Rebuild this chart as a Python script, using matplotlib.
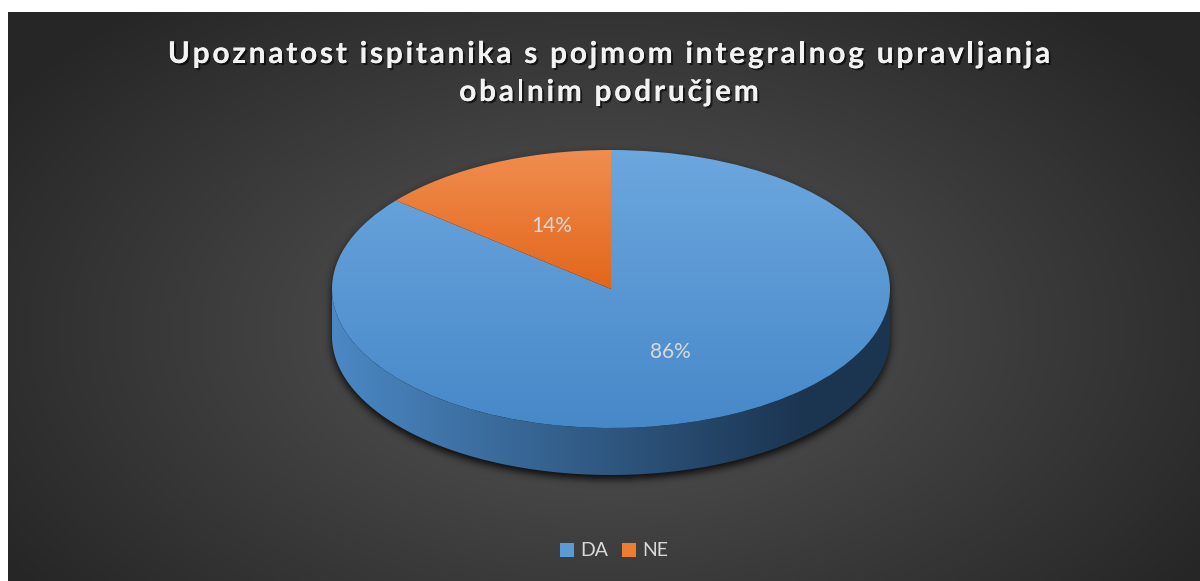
import numpy as np
import matplotlib.pyplot as plt
from matplotlib.patches import Wedge, Polygon, Rectangle
from matplotlib.transforms import Affine2D
from matplotlib import patheffects
from matplotlib.colors import to_rgb

plt.rcParams['font.family'] = ['Lato', 'DejaVu Sans']

title_lines = ["Upoznatost ispitanika s pojmom integralnog upravljanja",
               "obalnim područjem"]
categories = ["DA", "NE"]
shares = [86, 14]
top_colors = [("#6ca7de", "#4788c9"), ("#f08d50", "#e3661a")]
side_colors = [("#4b88c4", "#1b3450"), ("#c0581a", "#6a300c")]
legend_colors = ["#5b9bd5", "#ed7d31"]

W, H = 1200, 581
fig = plt.figure(figsize=(12, 5.81), dpi=100, facecolor="white")
ax = fig.add_axes([0, 0, 1, 1])
ax.set_xlim(0, W)
ax.set_ylim(H, 0)
ax.axis("off")

# radial grey background
bx0, by0 = 8, 12
yy, xx = np.mgrid[by0:H, bx0:W] + 0.5
r = np.sqrt(((xx - 605) / 720) ** 2 + ((yy - 330) / 430) ** 2)
r = np.clip(r, 0, 1)
c_in, c_out = np.array(to_rgb("#585858")), np.array(to_rgb("#262626"))
bg = c_in[None, None, :] * (1 - r[..., None]) + c_out[None, None, :] * r[..., None]
ax.imshow(bg, extent=(bx0, W, H, by0), zorder=0, interpolation="bilinear")

# pie geometry (pixels)
cx, cy, rx, ry, depth = 611, 289, 279, 139, 47


def ellipse_tf():
    return Affine2D().scale(rx, -ry).translate(cx, cy) + ax.transData


def gradient_fill(patch, c1, c2, box, vertical=True, zorder=3):
    x0, x1, y0, y1 = box
    t = np.linspace(0, 1, 256)
    a, b = np.array(to_rgb(c1)), np.array(to_rgb(c2))
    g = a[None, :] * (1 - t[:, None]) + b[None, :] * t[:, None]
    img = g[:, None, :] if vertical else g[None, :, :]
    im = ax.imshow(img, extent=(x0, x1, y1, y0), aspect="auto",
                   zorder=zorder, interpolation="bilinear")
    im.set_clip_path(patch)


# soft shadow under the pie
sy, sx = np.mgrid[0:H, 0:W] + 0.5
sh_cy = cy + 4
m = ((((sx - cx) / rx) ** 2 + ((sy - sh_cy) / ry) ** 2) <= 1) | \
    ((((sx - cx) / rx) ** 2 + ((sy - sh_cy - depth) / ry) ** 2) <= 1) | \
    ((np.abs(sx - cx) <= rx) & (sy >= sh_cy) & (sy <= sh_cy + depth))
m = m.astype(float)
k = np.exp(-0.5 * (np.arange(-12, 13) / 4.0) ** 2)
k /= k.sum()
m = np.apply_along_axis(lambda v: np.convolve(v, k, mode="same"), 0, m)
m = np.apply_along_axis(lambda v: np.convolve(v, k, mode="same"), 1, m)
shadow = np.zeros((H, W, 4))
shadow[..., 3] = m * 0.85
ax.imshow(shadow, extent=(0, W, H, 0), zorder=1)

# wedge angles: start at 12 o'clock, clockwise
total = sum(shares)
angles = []
start = 90.0
for v in shares:
    sweep = v / total * 360
    angles.append((start - sweep, start))
    start -= sweep

# front side walls (only the lower half of the rim is visible)
for (a1, a2), (c1, c2) in zip(angles, side_colors):
    th = np.radians(np.linspace(a1, a2, 400))
    vis = np.sin(th) <= 1e-9
    if not vis.any():
        continue
    idx = np.where(vis)[0]
    breaks = np.where(np.diff(idx) > 1)[0]
    for seg in np.split(idx, breaks + 1):
        t = th[seg]
        xs = cx + rx * np.cos(t)
        ys = cy - ry * np.sin(t)
        pts = np.column_stack([np.r_[xs, xs[::-1]], np.r_[ys, ys[::-1] + depth]])
        poly = Polygon(pts, closed=True, facecolor="none", edgecolor="none", zorder=2)
        ax.add_patch(poly)
        gradient_fill(poly, c1, c2, (cx - rx, cx + rx * 0.7, cy, cy + ry + depth),
                      vertical=False, zorder=2)
        # keep the dark tone on the far right part of the wall
        rest = Polygon(pts, closed=True, facecolor="none", edgecolor="none", zorder=2)
        ax.add_patch(rest)
        clip_r = Rectangle((cx + rx * 0.7 - 1, cy - 1), rx * 0.3 + 2, ry + depth + 2,
                           facecolor=c2, edgecolor="none", zorder=2)
        ax.add_patch(clip_r)
        clip_r.set_clip_path(rest)

# top faces
for (a1, a2), (c1, c2) in zip(angles, top_colors):
    w = Wedge((0, 0), 1, a1, a2, facecolor="none", edgecolor="none",
              transform=ellipse_tf(), zorder=3)
    ax.add_patch(w)
    th = np.radians(np.linspace(a1, a2, 200))
    ys = np.r_[cy, cy - ry * np.sin(th)]
    gradient_fill(w, c1, c2, (cx - rx, cx + rx, ys.min(), ys.max()), zorder=3)

# percentage labels at half radius on the mid angle
for (a1, a2), v in zip(angles, shares):
    mid = np.radians((a1 + a2) / 2)
    lx = cx + 0.5 * rx * np.cos(mid)
    ly = cy - 0.5 * ry * np.sin(mid)
    ax.text(lx, ly, f"{v}%", ha="center", va="center", fontsize=15,
            color="#d9d9d9", zorder=5)

# title with letter spacing
renderer = fig.canvas.get_renderer()


def spaced_text(x, y, s, spacing, **kw):
    probe = ax.text(0, 0, s, **kw)
    prop = probe.get_fontproperties()
    probe.remove()

    def width(sub):
        return renderer.get_text_width_height_descent(sub, prop, ismath=False)[0]

    bar = width("|")
    pos = [width(s[:i] + "|") - bar if i else 0 for i in range(len(s))]
    total_w = width(s) + spacing * (len(s) - 1)
    x0 = x - total_w / 2
    for i, ch in enumerate(s):
        ax.text(x0 + pos[i] + spacing * i, y, ch, ha="left", va="baseline", **kw)


title_fx = [patheffects.withSimplePatchShadow(offset=(1.5, -1.5), shadow_rgbFace="black",
                                              alpha=0.6),
            patheffects.Normal()]
for line, base in zip(title_lines, [63, 101]):
    spaced_text(609, base, line, 2.75, fontsize=21.5, fontweight="bold",
                color="#f2f2f2", path_effects=title_fx, zorder=6)

# legend
lx = 560
for name, col in zip(categories, legend_colors):
    ax.add_patch(Rectangle((lx, 543), 14, 14, facecolor=col, edgecolor="none", zorder=5))
    t = ax.text(lx + 20, 550.5, name, ha="left", va="center", fontsize=14,
                color="#d9d9d9", zorder=5)
    bb = t.get_window_extent(renderer)
    lx = bb.x1 + 14

fig.savefig("out.png", dpi=100, facecolor=fig.get_facecolor())
